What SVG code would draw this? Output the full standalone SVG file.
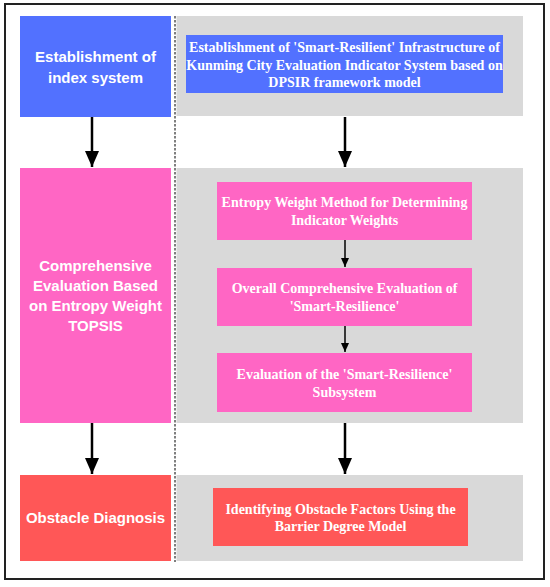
<svg xmlns="http://www.w3.org/2000/svg" width="550" height="587" viewBox="0 0 550 587">
<defs>
<marker id="big" markerWidth="14" markerHeight="16" refX="7" refY="16" markerUnits="userSpaceOnUse" viewBox="0 0 14 16">
<path d="M0,0 L14,0 L7,16 Z" fill="#000"/>
</marker>
<marker id="small" markerWidth="8" markerHeight="9" refX="4" refY="9" markerUnits="userSpaceOnUse" viewBox="0 0 8 9">
<path d="M0,0 L8,0 L4,9 Z" fill="#000"/>
</marker>
</defs>
<style>
.lt{font-family:"Liberation Sans",Arial,sans-serif;font-weight:bold;font-size:15px;fill:#fff;text-anchor:middle}
.rt{font-family:"Liberation Serif","Times New Roman",serif;font-weight:bold;font-size:14px;fill:#fff;text-anchor:middle}
.panel{fill:#d9d9d9}
.blue{fill:#5271ff}
.pink{fill:#ff66c4}
.red{fill:#ff5757}
.big{stroke:#000;stroke-width:2.5;fill:none;marker-end:url(#big)}
.sm{stroke:#000;stroke-width:1.5;fill:none;marker-end:url(#small)}
</style>
<rect x="0" y="0" width="550" height="587" fill="#fff"/>
<rect x="5" y="4" width="539" height="575" fill="#fff" stroke="#222" stroke-width="2"/>
<line x1="175" y1="16" x2="175" y2="562" stroke="#555" stroke-width="1.5" stroke-dasharray="2.5,1.5"/>

<g id="panel1">
<rect class="panel" x="176.5" y="16" width="346.5" height="100"/>
</g>
<g id="panel2">
<rect class="panel" x="176.5" y="168" width="346.5" height="255"/>
</g>
<g id="panel3">
<rect class="panel" x="176.5" y="475" width="346.5" height="86"/>
</g>

<g id="index-system">
<rect class="blue" x="20" y="16" width="151" height="101"/>
<text class="lt" x="95.5" y="62">Establishment of</text>
<text class="lt" x="95.5" y="83">index system</text>
</g>
<g id="dpsir">
<rect class="blue" x="186" y="35" width="317" height="58"/>
<text class="rt" x="344.5" y="52">Establishment of 'Smart-Resilient' Infrastructure of</text>
<text class="rt" x="344.5" y="70">Kunming City Evaluation Indicator System based on</text>
<text class="rt" x="344.5" y="87">DPSIR framework model</text>
</g>

<g id="topsis">
<rect class="pink" x="20" y="168" width="151" height="255"/>
<text class="lt" x="95.5" y="271">Comprehensive</text>
<text class="lt" x="95.5" y="291">Evaluation Based</text>
<text class="lt" x="95.5" y="311">on Entropy Weight</text>
<text class="lt" x="95.5" y="331">TOPSIS</text>
</g>
<g id="entropy">
<rect class="pink" x="217" y="182" width="255" height="58"/>
<text class="rt" x="344.5" y="207">Entropy Weight Method for Determining</text>
<text class="rt" x="344.5" y="225">Indicator Weights</text>
</g>
<g id="overall">
<rect class="pink" x="217" y="268" width="255" height="58"/>
<text class="rt" x="344.5" y="293">Overall Comprehensive Evaluation of</text>
<text class="rt" x="344.5" y="311">'Smart-Resilience'</text>
</g>
<g id="subsystem">
<rect class="pink" x="217" y="353" width="255" height="59"/>
<text class="rt" x="344.5" y="379">Evaluation of the 'Smart-Resilience'</text>
<text class="rt" x="344.5" y="397">Subsystem</text>
</g>

<g id="obstacle">
<rect class="red" x="20" y="475" width="151" height="86"/>
<text class="lt" x="95.5" y="523">Obstacle Diagnosis</text>
</g>
<g id="barrier">
<rect class="red" x="213" y="488" width="255" height="58"/>
<text class="rt" x="340.5" y="514">Identifying Obstacle Factors Using the</text>
<text class="rt" x="340.5" y="531">Barrier Degree Model</text>
</g>

<g id="connectors">
<line class="big" x1="92" y1="117" x2="92" y2="167"/>
<line class="big" x1="345" y1="117" x2="345" y2="167"/>
<line class="sm" x1="345" y1="240" x2="345" y2="267"/>
<line class="sm" x1="345" y1="326" x2="345" y2="352"/>
<line class="big" x1="92" y1="423" x2="92" y2="474"/>
<line class="big" x1="345" y1="423" x2="345" y2="474"/>
</g>
</svg>
